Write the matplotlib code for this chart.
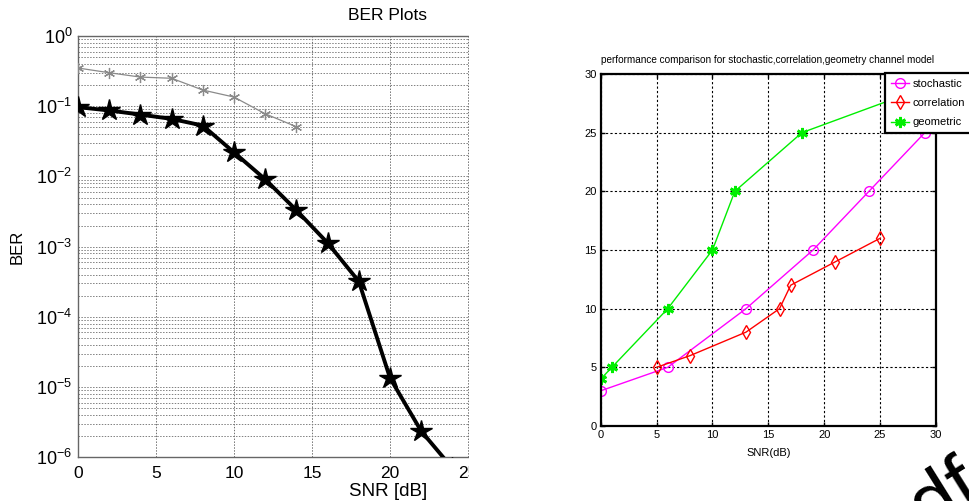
import numpy as np
import matplotlib
matplotlib.use('Agg')
import matplotlib.pyplot as plt
from matplotlib.patches import Rectangle

plt.rcParams['font.family'] = ['Liberation Sans', 'DejaVu Sans']
plt.rcParams['mathtext.default'] = 'regular'

# dados - grafico BER
snr_ber = [0, 2, 4, 6, 8, 10, 12, 14, 16, 18, 20, 22, 24]
ber_star = [0.097, 0.087, 0.076, 0.066, 0.053, 0.022, 0.0091, 0.0033,
            0.00113, 0.00032, 1.35e-5, 2.36e-6, 7e-7]
snr_cinza = [0, 2, 4, 6, 8, 10, 12, 14]
ber_cinza = [0.35, 0.30, 0.26, 0.25, 0.17, 0.135, 0.078, 0.051]
exps = [0, -1, -2, -3, -4, -5, -6]

# dados - grafico capacidade
snr_stoch = [0, 6, 13, 19, 24, 29]
cap_stoch = [3, 5, 10, 15, 20, 25]
snr_corr = [5, 8, 13, 16, 17, 21, 25]
cap_corr = [5, 6, 8, 10, 12, 14, 16]
snr_geo = [0, 1, 6, 10, 12, 18, 28]
cap_geo = [4, 5, 10, 15, 20, 25, 28.5]

W, H = 970, 501
fig = plt.figure(figsize=(W / 100, H / 100), dpi=100)

# ---------------- esquerda: BER ----------------
ax1 = fig.add_axes([78 / W, 43.7 / H, 468 / W, 421.3 / H])
ax1.semilogy(snr_cinza, ber_cinza, color='#8a8a8a', lw=0.9,
             marker=(6, 2, 0), ms=8, mew=0.9, zorder=3)
ax1.semilogy(snr_ber, ber_star, color='black', lw=2.8,
             marker='*', ms=16, zorder=4)
ax1.set_xlim(0, 30)
ax1.set_ylim(1e-6, 1)
ax1.set_xticks([0, 5, 10, 15, 20, 25, 30])
ax1.set_yticks([10.0 ** e for e in exps])
ax1.set_yticklabels([r'$10^{%d}$' % e for e in exps])
ax1.tick_params(which='both', direction='in', length=0, labelsize=13, pad=4)
ax1.tick_params(axis='x', labelsize=12.5, pad=6)
ax1.grid(True, which='major', axis='x', ls=(0, (1.5, 1.5)), color='#707070', lw=0.7)
ax1.grid(True, which='both', axis='y', ls=(0, (1.5, 1.5)), color='#808080', lw=0.7)
for s in ax1.spines.values():
    s.set_color('#666666')
    s.set_linewidth(1.0)

fig.text(388 / W, 1 - 16 / H, 'BER Plots', ha='center', va='center', fontsize=12.5)
fig.text(388 / W, 1 - 491 / H, 'SNR [dB]', ha='center', va='center', fontsize=13.5)
fig.text(17 / W, 1 - 247 / H, 'BER', ha='center', va='center', rotation=90, fontsize=12)

# recorte da imagem original
fig.patches.append(Rectangle((469 / W, 0), 110 / W, 1, transform=fig.transFigure,
                             facecolor='white', edgecolor='none', zorder=10))

# ---------------- direita: capacidade ----------------
narrow = ['Liberation Sans Narrow', 'Liberation Sans', 'DejaVu Sans']
ax2 = fig.add_axes([600.7 / W, 75 / H, 335.3 / W, 352 / H])
ax2.plot(snr_stoch, cap_stoch, color='#ff00ff', lw=1, marker='o', ms=7,
         mfc='none', mew=1, label='stochastic')
ax2.plot(snr_corr, cap_corr, color='#ff0000', lw=1, marker='d', ms=7.5,
         mfc='none', mew=1, label='correlation')
ax2.plot(snr_geo, cap_geo, color='#00ee00', lw=1, marker=(6, 2, 0), ms=8,
         mew=2, label='geometric')
ax2.set_xlim(0, 30)
ax2.set_ylim(0, 30)
ax2.set_xticks(range(0, 31, 5))
ax2.set_yticks(range(0, 31, 5))
ax2.tick_params(direction='in', length=3, width=1, top=True, right=True,
                labelsize=8, pad=3)
for lab in ax2.get_xticklabels() + ax2.get_yticklabels():
    lab.set_family(narrow)
ax2.grid(True, ls=(0, (2, 2)), color='black', lw=0.8)
for s in ax2.spines.values():
    s.set_linewidth(1.6)
ax2.set_title('performance comparison for stochastic,correlation,geometry channel model',
              fontsize=7.2, family=narrow, pad=8, loc='left')
ax2.set_xlabel('SNR(dB)', fontsize=8, family=narrow, labelpad=6)
ax2.set_ylabel('capacity (bps)', fontsize=8, family=narrow, labelpad=4)

leg = ax2.legend(loc='upper left', bbox_to_anchor=(885 / W, 1 - 73 / H),
                 bbox_transform=fig.transFigure, fancybox=False, framealpha=1,
                 edgecolor='black', prop={'family': narrow, 'size': 8},
                 handlelength=1.7, borderpad=0.5, labelspacing=0.85,
                 handletextpad=0.3, borderaxespad=0)
leg.get_frame().set_linewidth(1.6)

# marca d'agua "pdf" no canto
fig.text(986 / W, 1 - 497 / H, 'pdf', ha='right', va='baseline', rotation=32,
         rotation_mode='anchor', fontsize=58, color='black', zorder=20)

fig.savefig('out.png', dpi=100)
